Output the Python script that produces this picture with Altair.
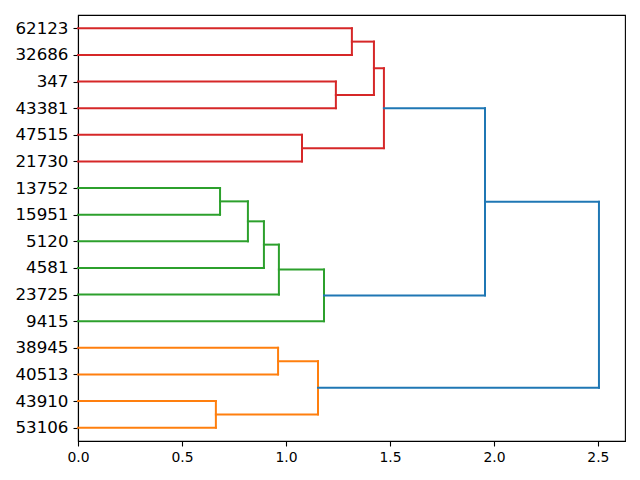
import altair as alt
import pandas as pd

# Leaf labels, top to bottom
leaves = ["62123", "32686", "347", "43381", "47515", "21730", "13752", "15951",
          "5120", "4581", "23725", "9415", "38945", "40513", "43910", "53106"]

# Merges: (left node, right node, height, colour group); new node ids start at 16
merge_left = [0, 2, 16, 4, 18, 6, 21, 22, 23, 24, 12, 14, 26, 20, 29]
merge_right = [1, 3, 17, 5, 19, 7, 8, 9, 10, 11, 13, 15, 27, 25, 28]
merge_height = [1.317, 1.240, 1.423, 1.077, 1.471, 0.683, 0.817, 0.894, 0.966,
                1.183, 0.962, 0.663, 1.154, 1.957, 2.505]
merge_group = ["C1", "C1", "C1", "C1", "C1", "C2", "C2", "C2", "C2", "C2",
               "C3", "C3", "C3", "C0", "C0"]

group_names = ["C0", "C1", "C2", "C3"]
group_colors = ["#1f77b4", "#d62728", "#2ca02c", "#ff7f0e"]

n = len(leaves)
ypos = {i: 5 + 10 * (n - 1 - i) for i in range(n)}
hpos = {i: 0.0 for i in range(n)}
rows = []
for k, (a, b, h, g) in enumerate(zip(merge_left, merge_right, merge_height, merge_group)):
    node = n + k
    ya, yb = ypos[a], ypos[b]
    rows.append(dict(x=hpos[a], x2=h, y=ya, y2=ya, g=g))
    rows.append(dict(x=h, x2=h, y=ya, y2=yb, g=g))
    rows.append(dict(x=hpos[b], x2=h, y=yb, y2=yb, g=g))
    ypos[node] = (ya + yb) / 2
    hpos[node] = h
df = pd.DataFrame(rows)

leaf_vals = [ypos[i] for i in range(n)]
expr = "''"
for i in range(n):
    expr = f"datum.value == {ypos[i]} ? '{leaves[i]}' : ({expr})"

xmax = max(merge_height) * 1.05

chart = alt.Chart(df).mark_rule(strokeWidth=2, strokeCap="square").encode(
    x=alt.X("x:Q", scale=alt.Scale(domain=[0, xmax], nice=False, zero=False),
            axis=alt.Axis(values=[0, 0.5, 1.0, 1.5, 2.0, 2.5], format=".1f", title=None,
                          grid=False, labelFontSize=13.9, labelPadding=4, labelFlush=False)),
    x2="x2:Q",
    y=alt.Y("y:Q", scale=alt.Scale(domain=[0, 10 * n], nice=False),
            axis=alt.Axis(values=leaf_vals, labelExpr=expr, title=None, grid=False,
                          labelFontSize=16.7, labelPadding=5, labelFlush=False)),
    y2="y2:Q",
    color=alt.Color("g:N", scale=alt.Scale(domain=group_names, range=group_colors), legend=None),
).properties(
    width=547, height=426,
    autosize=alt.AutoSizeParams(type="none"),
    padding={"left": 70, "top": 7, "right": 7, "bottom": 31},
).configure_view(
    stroke="black", strokeWidth=1.1
).configure_axis(
    domainColor="black", tickColor="black", labelColor="black",
    tickSize=5, labelFont="DejaVu Sans", domainWidth=1.1, tickWidth=1.1
)

chart.save("out.html", embed_options={"renderer": "svg", "actions": False})
